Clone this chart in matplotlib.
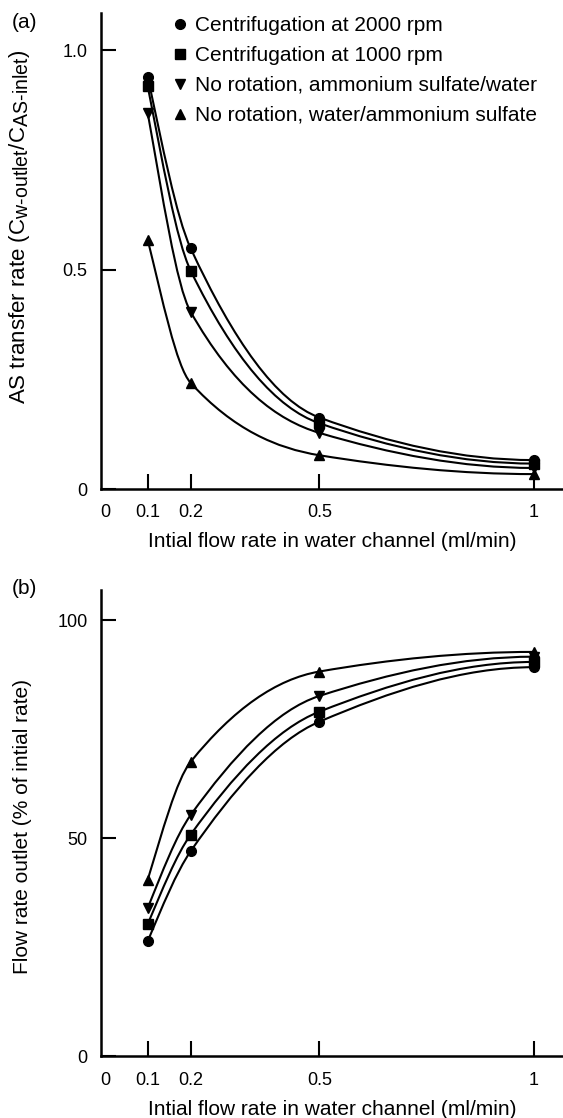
import numpy as np
import matplotlib
matplotlib.use('Agg')
import matplotlib.pyplot as plt
import matplotlib._mathtext as mathtext_internal
from matplotlib.path import Path
from matplotlib.patches import PathPatch
from matplotlib.lines import Line2D

plt.rcParams['font.family'] = ['Liberation Sans', 'DejaVu Sans']
# subscripts in the y label are only slightly smaller than the label itself
mathtext_internal.SHRINK_FACTOR = 0.88

# initial flow rate in water channel (ml/min)
flow = [0.1, 0.2, 0.5, 1.0]

labels = ['Centrifugation at 2000 rpm',
          'Centrifugation at 1000 rpm',
          'No rotation, ammonium sulfate/water',
          'No rotation, water/ammonium sulfate']
markers = ['o', 's', 'v', '^']

# (a) AS transfer rate
transfer_2000 = [0.940, 0.549, 0.163, 0.066]
transfer_1000 = [0.918, 0.498, 0.150, 0.058]
transfer_as_water = [0.857, 0.404, 0.128, 0.048]
transfer_water_as = [0.568, 0.242, 0.077, 0.034]

# (b) flow rate outlet, % of initial rate
outlet_2000 = [26.4, 47.0, 76.7, 89.2]
outlet_1000 = [30.3, 50.8, 79.0, 90.4]
outlet_as_water = [34.0, 55.3, 82.6, 91.6]
outlet_water_as = [40.5, 67.5, 88.2, 92.7]


# smooth monotone curve through the points, drawn as bezier segments
def smooth_path(x, y):
    x = np.asarray(x, float)
    y = np.asarray(y, float)
    h = np.diff(x)
    d = np.diff(y) / h
    m = np.zeros_like(y)
    for k in range(1, len(x) - 1):
        if d[k - 1] * d[k] > 0:
            w1 = 2 * h[k] + h[k - 1]
            w2 = h[k] + 2 * h[k - 1]
            m[k] = (w1 + w2) / (w1 / d[k - 1] + w2 / d[k])
    m[0] = ((2 * h[0] + h[1]) * d[0] - h[0] * d[1]) / (h[0] + h[1])
    m[-1] = ((2 * h[-1] + h[-2]) * d[-1] - h[-1] * d[-2]) / (h[-1] + h[-2])
    for i, j in [(0, 0), (-1, -1)]:
        if np.sign(m[i]) != np.sign(d[j]):
            m[i] = 0
        elif abs(m[i]) > 3 * abs(d[j]):
            m[i] = 3 * d[j]
    verts = [(x[0], y[0])]
    codes = [Path.MOVETO]
    for k in range(len(h)):
        verts += [(x[k] + h[k] / 3, y[k] + m[k] * h[k] / 3),
                  (x[k + 1] - h[k] / 3, y[k + 1] - m[k + 1] * h[k] / 3),
                  (x[k + 1], y[k + 1])]
        codes += [Path.CURVE4] * 3
    return Path(verts, codes)


def style_axes(ax, yticks, yticklabels, ylim):
    ax.spines['top'].set_visible(False)
    ax.spines['right'].set_visible(False)
    ax.spines['left'].set_linewidth(1.8)
    ax.spines['bottom'].set_linewidth(1.8)
    ax.set_xlim(-0.0096, 1.068)
    ax.set_ylim(*ylim)
    ax.set_xticks([0, 0.1, 0.2, 0.5, 1])
    ax.set_xticklabels(['0', '0.1', '0.2', '0.5', '1'])
    ax.set_yticks(yticks)
    ax.set_yticklabels(yticklabels)
    ax.tick_params(direction='in', length=11, width=1.5, labelsize=13)
    ax.tick_params(axis='x', pad=11)
    ax.tick_params(axis='y', pad=9.5)
    ax.xaxis.get_major_ticks()[0].tick1line.set_visible(False)
    ax.set_xlabel('Intial flow rate in water channel (ml/min)', fontsize=15, labelpad=8)


def draw_series(ax, series):
    for vals, mk in zip(series, markers):
        ax.add_patch(PathPatch(smooth_path(flow, vals), facecolor='none',
                               edgecolor='black', lw=1.5))
        ax.plot(flow, vals, linestyle='none', marker=mk, color='black', markersize=7)


fig = plt.figure(figsize=(5.63, 11.18), dpi=100)

# panel (a)
ax1 = fig.add_axes([0.1789, 0.5626, 0.8211, 0.4260])
draw_series(ax1, [transfer_2000, transfer_1000, transfer_as_water, transfer_water_as])
style_axes(ax1, [0, 0.5, 1.0], ['0', '0.5', '1.0'], (0, 1.086))
ax1.set_ylabel('AS transfer rate (C$_{\\mathregular{w\u2010outlet}}$/C$_{\\mathregular{AS\u2010inlet}}$)',
               fontsize=16)
ax1.yaxis.set_label_coords(-0.1486, 0.55)

handles = [Line2D([], [], linestyle='none', marker=mk, color='black', markersize=7)
           for mk in markers]
ax1.legend(handles, labels, loc='upper left', bbox_to_anchor=(0.1536, 0.9935),
           frameon=False, fontsize=15, handlelength=0.8, handletextpad=0.3,
           labelspacing=0.53, borderpad=0, borderaxespad=0)

# panel (b)
ax2 = fig.add_axes([0.1789, 0.0552, 0.8211, 0.4171])
draw_series(ax2, [outlet_2000, outlet_1000, outlet_as_water, outlet_water_as])
style_axes(ax2, [0, 50, 100], ['0', '50', '100'], (0, 106.9))
ax2.set_ylabel('Flow rate outlet (% of intial rate)', fontsize=15)
ax2.yaxis.set_label_coords(-0.1486, 0.493)

fig.text(12 / 563, 1 - 23 / 1118, '(a)', fontsize=15, ha='left', va='center')
fig.text(12 / 563, 1 - 588 / 1118, '(b)', fontsize=15, ha='left', va='center')

fig.savefig('out.png', dpi=100, facecolor='white')
